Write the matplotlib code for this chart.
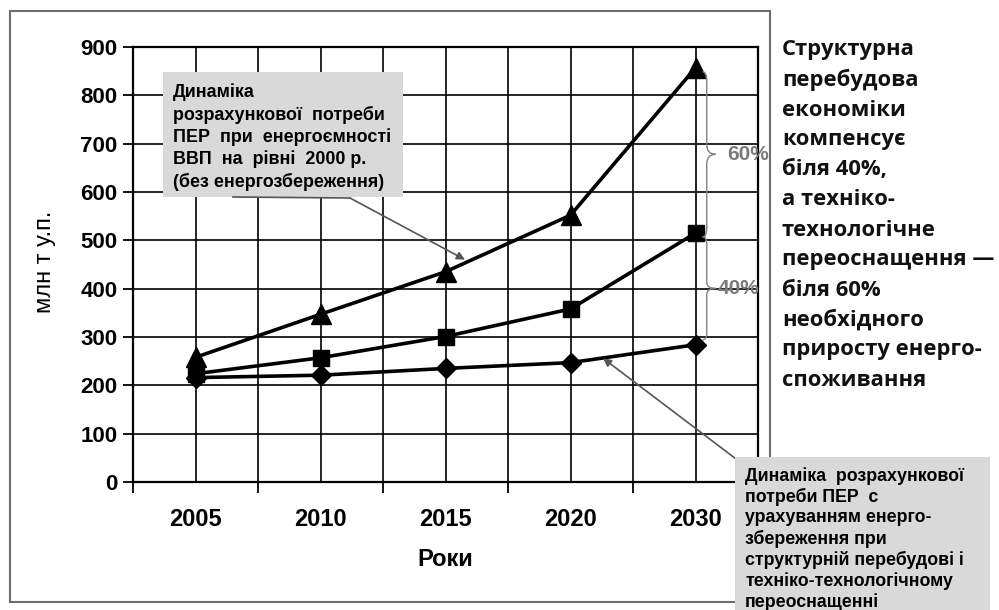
import matplotlib
matplotlib.use("Agg")
import matplotlib.pyplot as plt
from matplotlib import font_manager
from matplotlib.path import Path
from matplotlib.patches import PathPatch, Rectangle

years = ["2005", "2010", "2015", "2020", "2030"]
no_saving = [258, 347, 435, 552, 857]        # triangles
structural = [224, 257, 301, 358, 515]       # squares
with_saving = [216, 221, 235, 247, 284]      # diamonds
yticks = [0, 100, 200, 300, 400, 500, 600, 700, 800, 900]

box1_text = ("Динаміка\nрозрахункової  потреби\nПЕР  при  енергоємності\n"
             "ВВП  на  рівні  2000 р.\n(без енергозбереження)")
box2_text = ("Динаміка  розрахункової\nпотреби ПЕР  с\nурахуванням енерго-\n"
             "збереження при\nструктурній перебудові і\nтехніко-технологічному\nпереоснащенні")
side_lines = ["Структурна", "перебудова", "економіки", "компенсує", "біля 40%,",
              "а техніко-", "технологічне", "переоснащення —", "біля 60%",
              "необхідного", "приросту енерго-", "споживання"]

names = {f.name for f in font_manager.fontManager.ttflist}
narrow = "Liberation Sans Narrow" if "Liberation Sans Narrow" in names else "Liberation Sans"
arial = "Liberation Sans"

W, H = 999, 610
fig = plt.figure(figsize=(W / 100, H / 100), dpi=100)

def fx(px):
    return px / W

def fy(py):
    return 1 - py / H

# outer frame
fig.patches.append(Rectangle((fx(10), fy(602)), fx(770) - fx(10), fy(11) - fy(602),
                             transform=fig.transFigure, fill=False,
                             edgecolor="#6e6e6e", linewidth=1.5, zorder=0))

L, R, T, B = 133, 758, 47, 482
ax = fig.add_axes([fx(L), fy(B), fx(R) - fx(L), fy(T) - fy(B)])
x = list(range(len(years)))
ax.set_xlim(-0.5, len(years) - 0.5)
ax.set_ylim(0, 900)

ax.set_xticks(x)
ax.set_xticklabels(years, fontsize=17, fontweight="bold", family=arial)
ax.set_xticks([i - 0.5 for i in range(len(years) + 1)], minor=True)
ax.tick_params(axis="x", which="major", length=0, pad=19)
ax.tick_params(axis="x", which="minor", length=8, width=1.3, direction="out")
ax.set_yticks(yticks)
ax.set_yticklabels([str(v) for v in yticks], fontsize=16, fontweight="bold", family=arial)
ax.tick_params(axis="y", length=7, width=1.3, pad=4)
ax.grid(True, which="both", color="black", linewidth=1.2)
ax.set_axisbelow(True)
for s in ax.spines.values():
    s.set_linewidth(1.6)
    s.set_color("black")

ax.set_xlabel("Роки", fontsize=17, fontweight="bold", family=arial, labelpad=12)
fig.text(fx(45), fy(262), "млн т у.п.", rotation=90, ha="center", va="center",
         fontsize=17, family=arial)

ax.plot(x, no_saving, color="black", linewidth=2.6, marker="^", markersize=14, zorder=4)
ax.plot(x, structural, color="black", linewidth=2.6, marker="s", markersize=12, zorder=4)
ax.plot(x, with_saving, color="black", linewidth=2.6, marker="D", markersize=10, zorder=4)

# annotation box 1
fig.patches.append(Rectangle((fx(163), fy(197)), fx(403) - fx(163), fy(72) - fy(197),
                             transform=fig.transFigure, facecolor="#d9d9d9",
                             edgecolor="none", zorder=5))
fig.text(fx(173), fy(83), box1_text, ha="left", va="top", fontsize=12.9,
         fontweight="bold", family=narrow, linespacing=1.34, zorder=6)
fig.lines.append(plt.Line2D([fx(233), fx(350)], [fy(197), fy(198)], transform=fig.transFigure,
                            color="#555555", linewidth=1.2, zorder=6))
ax.annotate("", xy=(2.156, 460), xycoords="data",
            xytext=(fx(350), fy(198)), textcoords="figure fraction",
            arrowprops=dict(arrowstyle="-|>", color="#555555", lw=1.2,
                            mutation_scale=12, shrinkA=0, shrinkB=0),
            annotation_clip=False, zorder=6)

# annotation box 2
fig.patches.append(Rectangle((fx(735), fy(612)), fx(990) - fx(735), fy(457) - fy(612),
                             transform=fig.transFigure, facecolor="#d9d9d9",
                             edgecolor="none", zorder=5))
fig.text(fx(745), fy(467), box2_text, ha="left", va="top", fontsize=12.8,
         fontweight="bold", family=arial, linespacing=1.24, zorder=6)
ax.annotate("", xy=(3.26, 256), xycoords="data",
            xytext=(fx(744), fy(465)), textcoords="figure fraction",
            arrowprops=dict(arrowstyle="-|>", color="#555555", lw=1.2,
                            mutation_scale=12, shrinkA=0, shrinkB=0),
            annotation_clip=False, zorder=6)

# braces
def brace(x0, xt, top, bot, ax):
    mid = (top + bot) / 2
    d = (top - bot) * 0.06
    c = 0.035
    verts = [(x0 - c, top), (x0, top), (x0, top - d), (x0, mid + d),
             (x0, mid), (xt, mid), (xt, mid),
             (x0, mid), (x0, mid - d), (x0, bot + d),
             (x0, bot), (x0 - c, bot)]
    codes = [Path.MOVETO, Path.CURVE3, Path.CURVE3, Path.LINETO,
             Path.CURVE3, Path.CURVE3, Path.MOVETO,
             Path.CURVE3, Path.CURVE3, Path.LINETO,
             Path.CURVE3, Path.CURVE3]
    ax.add_patch(PathPatch(Path(verts, codes), fill=False, edgecolor="#808080",
                           linewidth=1.0, clip_on=False, zorder=6))

brace(4.09, 4.16, no_saving[4] - 8, structural[4] - 8, ax)
brace(4.09, 4.16, structural[4] - 8, with_saving[4] + 10, ax)
fig.text(fx(727), fy(155), "60%", ha="left", va="center", fontsize=15,
         fontweight="bold", color="#7a7a7a", family=arial)
fig.text(fx(718), fy(288), "40%", ha="left", va="center", fontsize=15,
         fontweight="bold", color="#7a7a7a", family=arial)

# side text
for i, line in enumerate(side_lines):
    fig.text(fx(782), fy(50 + i * 30), line, ha="left", va="center", fontsize=15.8,
             fontweight="bold", family="Open Sans", color="#111111")

fig.savefig("out.png", dpi=100)
